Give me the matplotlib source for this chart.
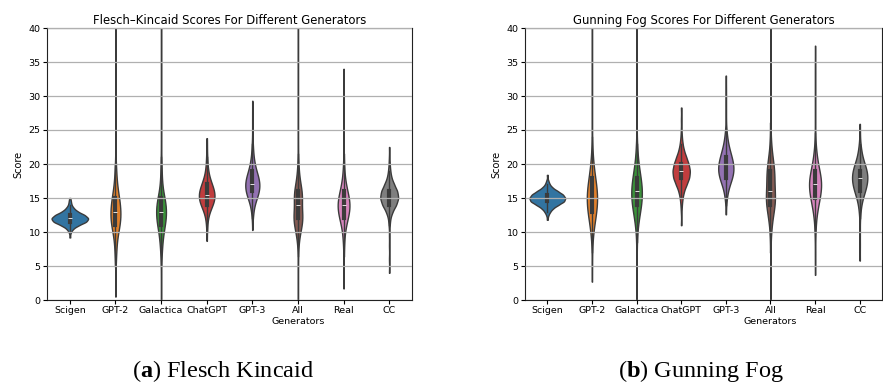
import matplotlib
matplotlib.use("Agg")
import matplotlib.pyplot as plt
import numpy as np
import pandas as pd
import seaborn as sns

generators = ["Scigen", "GPT-2", "Galactica", "ChatGPT", "GPT-3", "All\nGenerators", "Real", "CC"]
colors = ["#1f77b4", "#ff7f0e", "#2ca02c", "#d62728", "#9467bd", "#8c564b", "#e377c2", "#7f7f7f"]

# Flesch-Kincaid: score levels and how many texts sit at each
fk_scigen_score = [9.2, 10.0, 10.5, 11.0, 11.5, 12.0, 12.5, 13.0, 13.5, 14.0, 14.5, 15.0]
fk_scigen_count = [1, 2, 6, 16, 30, 34, 27, 14, 7, 3, 2, 1]
fk_gpt2_score = [0.5, 3, 5, 6, 7, 8, 9, 10, 11, 12, 13, 14, 15, 16, 17, 18, 19, 20,
                 22, 24, 27, 30, 34, 38, 42]
fk_gpt2_count = [1, 1, 1, 2, 3, 4, 6, 10, 16, 19, 19, 17, 14, 9, 6, 4, 3, 2,
                 1, 1, 1, 1, 1, 1, 1]
fk_galactica_score = [-1, 0.5, 2, 3.5, 5, 6, 7, 8, 9, 10, 11, 12, 13, 14, 15, 16, 17, 18, 19, 20,
                      21, 22.5, 24, 25.5, 27, 28.5, 30, 31.5, 33, 34.5, 36, 37.5, 39, 40.5, 42]
fk_galactica_count = [1, 1, 1, 1, 1, 1, 3, 4, 6, 9, 14, 18, 19, 18, 13, 7, 4, 3, 2, 2,
                      1, 1, 1, 1, 1, 1, 1, 1, 1, 1, 1, 1, 1, 1, 1]
fk_chatgpt_score = [8.7, 10, 11, 12, 13, 14, 15, 16, 17, 18, 19, 20, 21, 22, 23, 23.8]
fk_chatgpt_count = [1, 1, 2, 4, 10, 22, 30, 28, 19, 10, 5, 3, 2, 1, 1, 1]
fk_gpt3_score = [10.3, 12, 13, 14, 15, 16, 17, 18, 19, 20, 21, 22, 23, 24.5, 26, 27.5, 29.3]
fk_gpt3_count = [1, 2, 4, 8, 17, 26, 28, 24, 15, 9, 5, 3, 2, 1, 1, 1, 1]
fk_all_score = [-1, 1, 3, 5, 6.5, 8, 9, 10, 11, 12, 13, 14, 15, 16, 17, 18, 19, 20,
                21.5, 23, 25, 27, 29, 31, 33, 35, 37, 39, 41]
fk_all_count = [1, 1, 1, 1, 1, 2, 4, 8, 14, 19, 14, 12, 16, 15, 9, 5, 3, 2,
                1, 1, 1, 1, 1, 1, 1, 1, 1, 1, 1]
fk_real_score = [1.7, 3.5, 5, 6.5, 8, 9, 10, 11, 12, 13, 14, 15, 16, 17, 18, 19, 20,
                 21.5, 23, 24.5, 26, 27.5, 29, 30.5, 32, 34]
fk_real_count = [1, 1, 1, 1, 2, 3, 5, 9, 17, 23, 26, 22, 15, 9, 5, 3, 2,
                 1, 1, 1, 1, 1, 1, 1, 1, 1]
fk_cc_score = [4, 6, 8, 9.5, 11, 12, 13, 14, 15, 16, 17, 18, 19, 20, 21, 22.5]
fk_cc_count = [1, 1, 1, 1, 2, 4, 12, 26, 34, 30, 18, 8, 4, 2, 1, 1]

# Gunning Fog
gf_scigen_score = [11.8, 12.5, 13.0, 13.5, 14.0, 14.5, 15.0, 15.5, 16.0, 16.5, 17.0, 17.5, 18.4]
gf_scigen_count = [1, 2, 5, 10, 19, 29, 31, 27, 18, 9, 4, 2, 1]
gf_gpt2_score = [2.7, 5, 7, 8, 9, 10, 11, 12, 13, 14, 15, 16, 17, 18, 19, 20, 21, 22,
                 24, 26, 28, 30, 32, 34, 36, 38, 40, 42]
gf_gpt2_count = [1, 1, 1, 1, 2, 4, 7, 10, 14, 16, 17, 16, 13, 10, 7, 4, 3, 2,
                 1, 1, 1, 1, 1, 1, 1, 1, 1, 1]
gf_galactica_score = [-1, 1, 3, 5, 7, 8.5, 10, 11, 12, 13, 14, 15, 16, 17, 18, 19, 20, 21, 22, 23,
                      24.5, 26, 28, 30, 32, 34, 36, 38, 40, 42]
gf_galactica_count = [1, 1, 1, 1, 1, 2, 3, 5, 8, 12, 16, 18, 19, 17, 14, 10, 7, 4, 3, 2,
                      1, 1, 1, 1, 1, 1, 1, 1, 1, 1]
gf_chatgpt_score = [11, 13, 14, 15, 16, 17, 18, 19, 20, 21, 22, 23, 24, 25, 26.5, 28.3]
gf_chatgpt_count = [1, 1, 2, 4, 8, 16, 24, 26, 22, 15, 8, 4, 2, 1, 1, 1]
gf_gpt3_score = [12.6, 14, 15, 16, 17, 18, 19, 20, 21, 22, 23, 24, 25, 26.5, 28, 29.5, 31, 33]
gf_gpt3_count = [1, 1, 3, 6, 12, 20, 24, 23, 18, 12, 7, 4, 2, 1, 1, 1, 1, 1]
gf_all_score = [-1, 1, 3, 5, 7, 9, 10, 11, 12, 13, 14, 15, 16, 17, 18, 19, 20, 21, 22, 23, 24,
                26, 28, 30, 32, 34, 36, 38, 40, 42]
gf_all_count = [1, 1, 1, 1, 1, 1, 2, 4, 6, 10, 15, 17, 13, 11, 13, 14, 10, 6, 4, 2, 1,
                1, 1, 1, 1, 1, 1, 1, 1, 1]
gf_real_score = [3.7, 5.5, 7, 8.5, 10, 11, 12, 13, 14, 15, 16, 17, 18, 19, 20, 21, 22, 23,
                 24.5, 26, 27.5, 29, 30.5, 32, 33.5, 35, 37.4]
gf_real_count = [1, 1, 1, 1, 2, 2, 4, 7, 11, 16, 20, 22, 20, 15, 10, 6, 4, 2,
                 1, 1, 1, 1, 1, 1, 1, 1, 1]
gf_cc_score = [5.8, 8, 10, 12, 13, 14, 15, 16, 17, 18, 19, 20, 21, 22, 23, 24.5, 25.9]
gf_cc_count = [1, 1, 1, 1, 2, 4, 8, 14, 19, 21, 19, 13, 7, 4, 2, 1, 1]

fk_groups = [(fk_scigen_score, fk_scigen_count), (fk_gpt2_score, fk_gpt2_count),
             (fk_galactica_score, fk_galactica_count), (fk_chatgpt_score, fk_chatgpt_count),
             (fk_gpt3_score, fk_gpt3_count), (fk_all_score, fk_all_count),
             (fk_real_score, fk_real_count), (fk_cc_score, fk_cc_count)]
gf_groups = [(gf_scigen_score, gf_scigen_count), (gf_gpt2_score, gf_gpt2_count),
             (gf_galactica_score, gf_galactica_count), (gf_chatgpt_score, gf_chatgpt_count),
             (gf_gpt3_score, gf_gpt3_count), (gf_all_score, gf_all_count),
             (gf_real_score, gf_real_count), (gf_cc_score, gf_cc_count)]


def robust_bw(kde):
    # Silverman's rule on the IQR so the long tails don't smear the body
    d = np.ravel(kde.dataset)
    q1, q3 = np.percentile(d, [25, 75])
    return 1.0 * (q3 - q1) / 1.34 * len(d) ** -0.2 / d.std(ddof=1)


def long_frame(groups):
    parts = []
    for g, (score, count) in zip(generators, groups):
        parts.append(pd.DataFrame({"generator": g, "score": np.repeat(score, count)}))
    return pd.concat(parts, ignore_index=True)


def draw(ax, groups, title):
    df = long_frame(groups)
    sns.violinplot(data=df, x="generator", y="score", hue="generator", palette=colors,
                   legend=False, cut=0, bw_method=robust_bw, common_norm=True,
                   density_norm="area", linewidth=1.0, linecolor="#3b3b3b", inner="box",
                   inner_kws=dict(box_width=3, whis_width=1), ax=ax)
    ax.set_ylim(0, 40)
    ax.set_yticks(range(0, 41, 5))
    ax.grid(axis="y", color="#b0b0b0", linewidth=0.9)
    ax.set_axisbelow(False)
    ax.set_xlabel("")
    ax.set_ylabel("Score", fontsize=7)
    ax.set_title(title, fontsize=8.4, pad=3)
    ax.tick_params(labelsize=6.8, length=3, pad=1.5)
    for s in ax.spines.values():
        s.set_color("#222222")


fig = plt.figure(figsize=(8.83, 3.85), dpi=100)
ax1 = fig.add_axes([47 / 883, 85 / 385, 365 / 883, 272 / 385])
ax2 = fig.add_axes([525 / 883, 85 / 385, 357 / 883, 272 / 385])

draw(ax1, fk_groups, "Flesch\u2013Kincaid Scores For Different Generators")
draw(ax2, gf_groups, "Gunning Fog Scores For Different Generators")

plt.rcParams["mathtext.fontset"] = "custom"
plt.rcParams["mathtext.rm"] = "Liberation Serif"
plt.rcParams["mathtext.bf"] = "Liberation Serif:bold"
fig.text(223 / 883, 8 / 385, r"($\mathbf{a}$) Flesch Kincaid", ha="center", va="baseline",
         family="Liberation Serif", fontsize=17.5)
fig.text(701 / 883, 8 / 385, r"($\mathbf{b}$) Gunning Fog", ha="center", va="baseline",
         family="Liberation Serif", fontsize=17.5)

fig.savefig("out.png", dpi=100)
